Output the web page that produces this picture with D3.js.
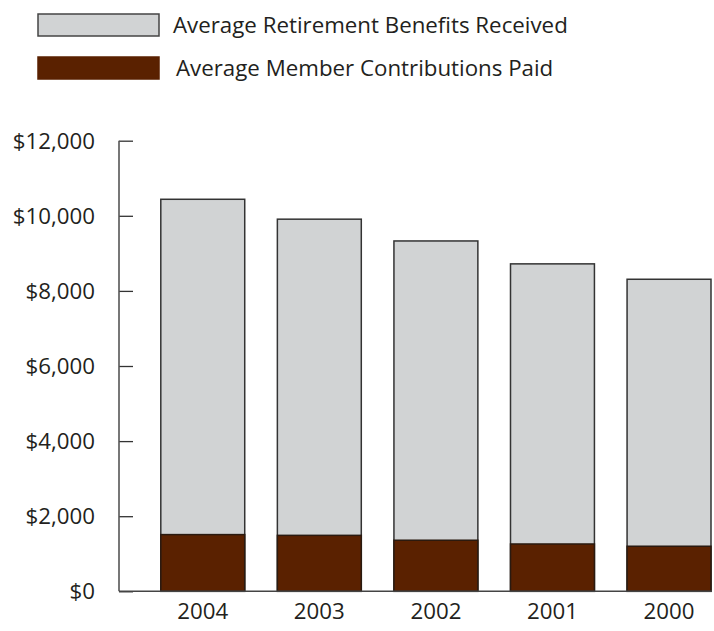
<!DOCTYPE html>
<html>
<head>
<meta charset="utf-8">
<script src="https://cdn.jsdelivr.net/npm/d3@7"></script>
<style>
  html, body { margin: 0; padding: 0; background: #fff; }
  svg { display: block; }
  text { font-family: "Open Sans", "Noto Sans", sans-serif; fill: #231f20; }
</style>
</head>
<body>
<svg id="chart" width="714" height="631"></svg>
<script>
// Average benefits vs. contributions per retiree, by fiscal year
const years = ["2004", "2003", "2002", "2001", "2000"];
const benefits = [10440, 9910, 9330, 8720, 8310];
const contributions = [1510, 1490, 1360, 1260, 1200];
const yTicks = [0, 2000, 4000, 6000, 8000, 10000, 12000];
const seriesNames = ["Average Retirement Benefits Received", "Average Member Contributions Paid"];
const seriesColors = ["#d1d3d4", "#5a2100"];

const fontSize = 22.3;
const svg = d3.select("#chart");

const x = d3.scaleBand().domain(years).range([160.8, 711]).paddingInner(0.28).paddingOuter(0);
const y = d3.scaleLinear().domain([0, 12000]).range([591.3, 140.7]);

// legend
const legend = svg.append("g");
seriesNames.forEach((name, i) => {
  const g = legend.append("g").attr("transform", `translate(38,${14 + i * 43})`);
  g.append("rect").attr("width", 121).attr("height", 22)
    .attr("fill", seriesColors[i])
    .attr("stroke", i === 0 ? "#444" : seriesColors[i]).attr("stroke-width", 1.5);
  g.append("text").attr("x", 135 + i * 3).attr("y", 11).attr("dy", "0.36em")
    .attr("font-size", fontSize).text(name);
});

// y axis
const yAxis = d3.axisRight(y).tickValues(yTicks).tickSize(14).tickFormat("");
const ya = svg.append("g").attr("transform", "translate(119,0)").call(yAxis);
ya.select(".domain").remove();
ya.selectAll(".tick line").attr("stroke", "#333").attr("stroke-width", 1.3);
svg.append("line").attr("x1", 119).attr("x2", 119).attr("y1", y(12000)).attr("y2", y(0))
  .attr("stroke", "#555").attr("stroke-width", 1.6);

svg.append("g").selectAll("text").data(yTicks).join("text")
  .attr("x", 95).attr("y", d => y(d)).attr("dy", "0.36em")
  .attr("text-anchor", "end").attr("font-size", fontSize)
  .text(d => d3.format("$,")(d));

// bars: benefits total, contributions overlaid at the bottom
const bars = svg.append("g");
bars.selectAll("rect.ben").data(years).join("rect").attr("class", "ben")
  .attr("x", d => x(d)).attr("width", x.bandwidth())
  .attr("y", (d, i) => y(benefits[i])).attr("height", (d, i) => y(0) - y(benefits[i]))
  .attr("fill", seriesColors[0]).attr("stroke", "#333").attr("stroke-width", 1.5);
bars.selectAll("rect.con").data(years).join("rect").attr("class", "con")
  .attr("x", d => x(d)).attr("width", x.bandwidth())
  .attr("y", (d, i) => y(contributions[i])).attr("height", (d, i) => y(0) - y(contributions[i]))
  .attr("fill", seriesColors[1]).attr("stroke", "#2a1a10").attr("stroke-width", 1.5);

// baseline
svg.append("line").attr("x1", 119).attr("x2", 712).attr("y1", y(0)).attr("y2", y(0))
  .attr("stroke", "#444").attr("stroke-width", 1.6);

// x labels
svg.append("g").selectAll("text").data(years).join("text")
  .attr("x", d => x(d) + x.bandwidth() / 2).attr("y", 611).attr("dy", "0.36em")
  .attr("text-anchor", "middle").attr("font-size", fontSize)
  .text(d => d);
</script>
</body>
</html>
